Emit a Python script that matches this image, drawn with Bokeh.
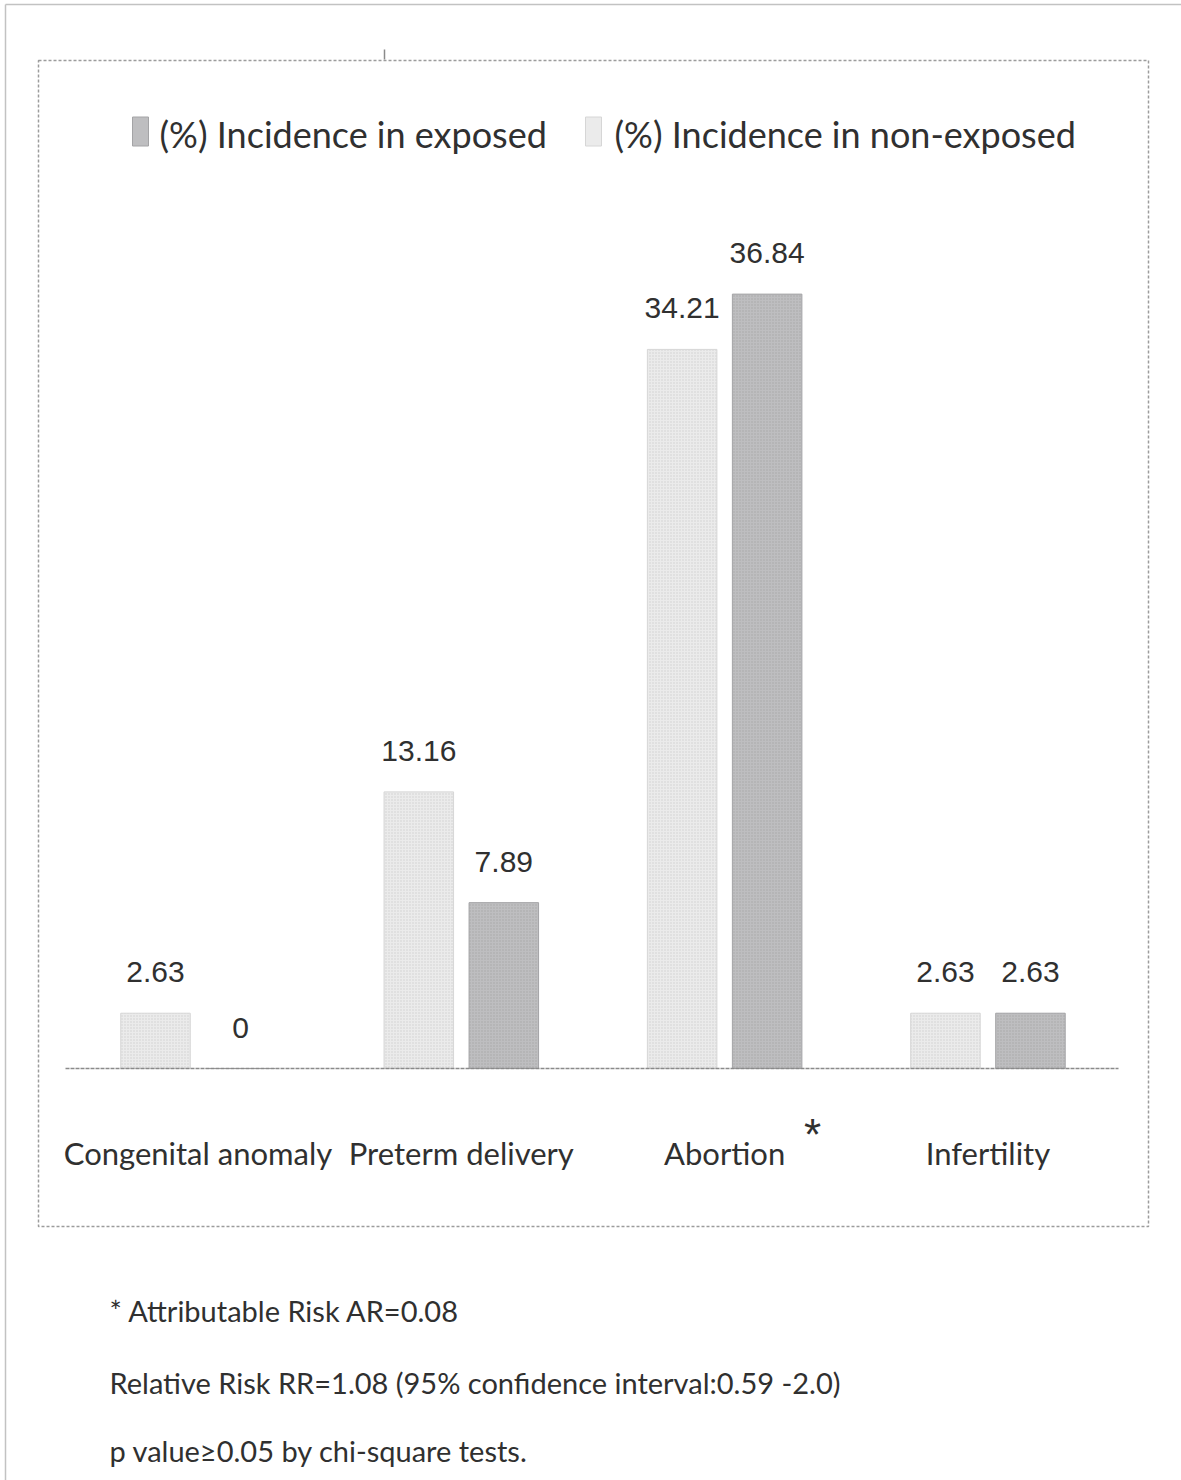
from bokeh.plotting import figure
from bokeh.models import Range1d, ColumnDataSource
from bokeh.transform import dodge
from bokeh.core.properties import value
from bokeh.embed import file_html
from bokeh.resources import INLINE

# ---- data -------------------------------------------------------------
categories = ["Congenital anomaly", "Preterm delivery", "Abortion", "Infertility"]
non_exposed = [2.63, 13.16, 34.21, 2.63]
exposed = [0, 7.89, 36.84, 2.63]
series_names = ["(%) Incidence in exposed", "(%) Incidence in non-exposed"]
significant = ["Abortion"]
notes = [
    "* Attributable Risk AR=0.08",
    "Relative Risk RR=1.08 (95% confidence interval:0.59 -2.0)",
    "p value\u22650.05 by chi-square tests.",
]

# ---- styling ----------------------------------------------------------
W, H = 1181, 1480
LABEL_FONT = value("Lato")
NUM_FONT = value("Liberation Sans")
TEXT = "#303030"
LIGHT, LIGHT_EDGE = "#ebebeb", "#d6d6d6"
DARK, DARK_EDGE = "#bebec0", "#a4a4a6"
OFF = 0.1614      # half the distance between the paired bars (category units)
BAR_W = 0.264

pos = list(range(len(categories)))   # one slot per category
src = ColumnDataSource(dict(
    pos=pos,
    cat=categories,
    ne=non_exposed,
    ex=exposed,
    ne_lbl=[f"{v:g}" for v in non_exposed],
    ex_lbl=[f"{v:g}" for v in exposed],
))

# value axis: 0 sits 1068 px from the top, 21.02 px per percentage point
p = figure(
    width=W, height=H,
    x_range=Range1d(-0.750, 3.735),
    y_range=Range1d(-(H - 1068) / 21.02, 1068 / 21.02),
    x_axis_location=None, y_axis_location=None,
    output_backend="svg", toolbar_location=None,
    min_border=0,
)
p.grid.visible = False
p.outline_line_color = None
p.background_fill_color = "white"
p.border_fill_color = "white"

# pixel-space ranges for page decorations (y runs top-down)
p.extra_x_ranges = {"px": Range1d(0, W)}
p.extra_y_ranges = {"px": Range1d(H, 0)}
px = dict(x_range_name="px", y_range_name="px")

# page edges and chart frame
p.segment(x0=[5, 5], x1=[W, 5], y0=[4, 4], y1=[4, H], line_color="#c2c2c2",
          line_width=1.5, **px)
p.segment(x0=384, x1=384, y0=49, y1=59, line_color="#8a8a8a", line_width=1.5, **px)
p.quad(left=38, right=1148, top=60, bottom=1226, fill_color=None,
       line_color="#9c9c9c", line_width=1.5, line_dash="3 2", **px)

# bars
ne_x = dodge("pos", -OFF)
ex_x = dodge("pos", OFF)
p.vbar(x=ne_x, top="ne", bottom=0, width=BAR_W, source=src,
       fill_color=LIGHT, line_color=LIGHT_EDGE, line_width=1,
       hatch_pattern="dot", hatch_color="#a8a8a8", hatch_scale=3, hatch_alpha=0.45)
p.vbar(x=ex_x, top="ex", bottom=0, width=BAR_W, source=src,
       fill_color=DARK, line_color=DARK_EDGE, line_width=1,
       hatch_pattern="dot", hatch_color="#8a8a8a", hatch_scale=3, hatch_alpha=0.45)

# baseline
p.segment(x0=65, x1=1118, y0=0, y1=0, x_range_name="px",
          line_color="#8a8a8a", line_width=1.5, line_dash="4 1")

# value labels
lbl_kw = dict(source=src, y_offset=-41, text_align="center", text_baseline="middle",
              text_font=NUM_FONT, text_font_size="30px", text_color=TEXT)
p.text(x=ne_x, y="ne", text="ne_lbl", **lbl_kw)
p.text(x=ex_x, y="ex", text="ex_lbl", **lbl_kw)

# category labels
p.text(x="pos", y=0, text="cat", source=src, y_offset=84,
       text_align="center", text_baseline="middle",
       text_font=LABEL_FONT, text_font_size="31px", text_color=TEXT)
sig_pos = [categories.index(c) for c in significant]
p.text(x=sig_pos, y=[0] * len(sig_pos), text=["*"] * len(sig_pos),
       x_offset=88, y_offset=66, text_align="center", text_baseline="middle",
       text_font=NUM_FONT, text_font_size="44px", text_color=TEXT)

# legend
p.rect(x=[140, 593], y=[131, 131], width=16, height=29,
       fill_color=[DARK, LIGHT], line_color=[DARK_EDGE, LIGHT_EDGE], **px)
p.text(x=[159, 614], y=[133, 133], text=series_names,
       text_align="left", text_baseline="middle",
       text_font=LABEL_FONT, text_font_size="36px", text_color=TEXT, **px)

# footnotes
p.text(x=[109] * len(notes), y=[1310, 1382, 1450], text=notes,
       text_align="left", text_baseline="middle",
       text_font=LABEL_FONT, text_font_size="29px", text_color=TEXT, **px)

open("out.html", "w").write(file_html(p, INLINE))
